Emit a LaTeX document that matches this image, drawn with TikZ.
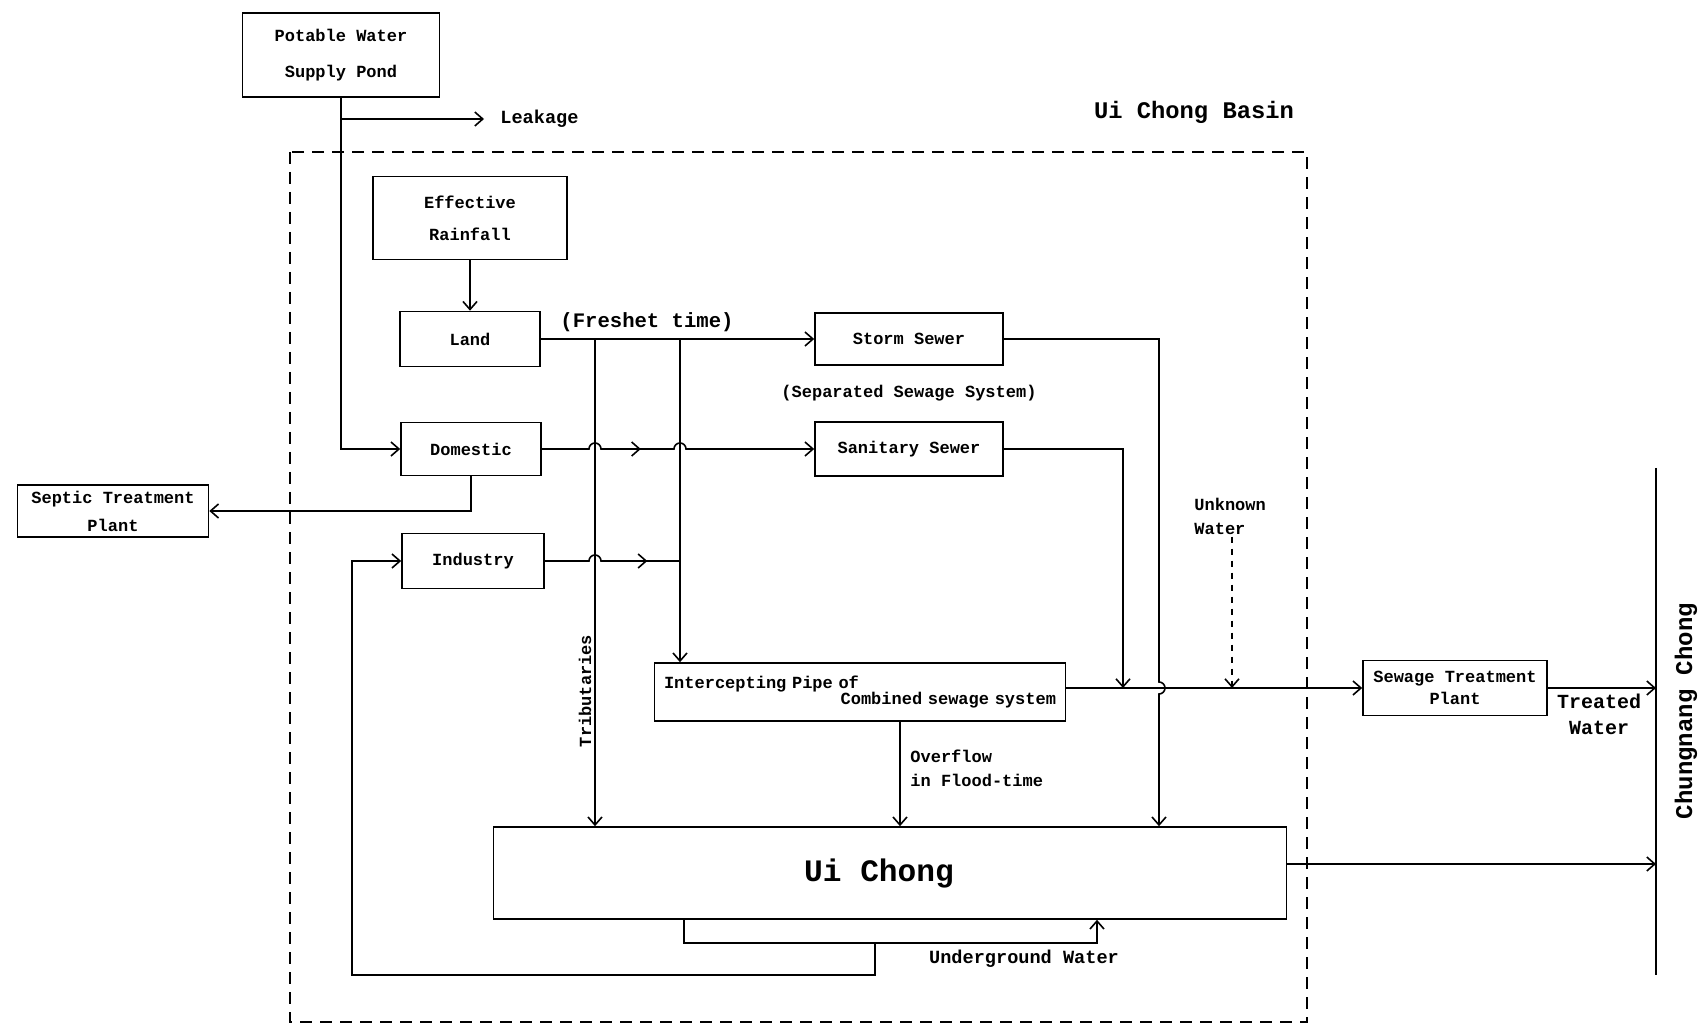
\documentclass[tikz,border=0pt]{standalone}
\usepackage{fontspec}
\newfontfamily\diafont{Liberation Mono}
\usepackage{tikz}
\usetikzlibrary{arrows.meta, decorations.markings, calc}
\tikzstyle{box} = [rectangle, draw=black, line width=0.8pt, align=center, inner sep=2pt,
                   font=\diafont\bfseries\fontsize{8.5}{10}\selectfont]
\tikzstyle{lbl} = [align=left, inner sep=1pt, font=\diafont\bfseries\fontsize{8.5}{10}\selectfont]
\tikzstyle{flow} = [line width=0.8pt]
\tikzstyle{arrow} = [line width=0.8pt, -{Straight Barb[length=4pt,width=7pt]}]
\tikzstyle{basin} = [line width=0.8pt, dash pattern=on 6pt off 4pt]
\tikzset{midarrow/.style={postaction={decorate},
  decoration={markings, mark=at position #1 with {\arrow{Straight Barb[length=4pt,width=7pt]}}}}}

\begin{document}
\begin{tikzpicture}[x=0.5pt, y=-0.5pt]
  \useasboundingbox (0,0) rectangle (1699,1032);

  % basin
  \draw[basin] (290,152) rectangle (1307,1022);
  \node (basinname) [lbl, font=\diafont\bfseries\fontsize{11.9}{14}\selectfont] at (1194,112) {Ui Chong Basin};

  \node (pond) [box, minimum width=98.5pt, minimum height=42pt] at (341,55) {Potable Water\\[8pt]Supply Pond};
  \node (leak) [lbl, anchor=west, inner xsep=8pt, font=\diafont\bfseries\fontsize{9.3}{11}\selectfont] at (484,119) {Leakage};
  \node (rain) [box, minimum width=97pt, minimum height=41.5pt] at (470,218) {Effective\\[6pt]Rainfall};
  \node (land) [box, minimum width=70pt, minimum height=27.5pt] at (470,339) {Land};
  \node (dom) [box, minimum width=70pt, minimum height=26.5pt] at (471,449) {Domestic};
  \node (ind) [box, minimum width=71pt, minimum height=27.5pt] at (473,561) {Industry};
  \node (septic) [box, minimum width=95.5pt, minimum height=26pt] at (113,511) {Septic Treatment\\[4pt]Plant};
  \node (storm) [box, minimum width=94pt, minimum height=26pt] at (909,339) {Storm Sewer};
  \node (sani) [box, minimum width=94pt, minimum height=27pt] at (909,449) {Sanitary Sewer};
  \node (pipe) [box, minimum width=205.5pt, minimum height=29pt, text width=196pt, align=left] at (860,692)
    {Intercepting Pipe of\\[-2pt]\hspace*{\fill}Combined sewage system};
  \node (stp) [box, minimum width=92pt, minimum height=27.5pt] at (1455,688) {Sewage Treatment\\[1pt]Plant};
  \node (uichong) [box, minimum width=396.5pt, minimum height=46pt, font=\diafont\bfseries\fontsize{15.6}{18}\selectfont] at (890,873) {\hspace*{-11pt}Ui Chong};

  \node (freshet) [lbl, font=\diafont\bfseries\fontsize{10.3}{12}\selectfont] at (647,322) {(Freshet time)};
  \node (separated) [lbl] at (909,393) {(Separated Sewage System)};
  \node (trib) [lbl, rotate=90] at (585,691) {Tributaries};
  \node (overflow) [lbl, anchor=west] at (908,768) {Overflow\\[2pt]in Flood-time};
  \node (unk) [lbl, anchor=west] at (1192,516) {Unknown\\[2pt]Water};
  \node (treated) [lbl, align=center, font=\diafont\bfseries\fontsize{10}{12}\selectfont] at (1599,714) {Treated\\[1pt]Water};
  \node (ground) [lbl, font=\diafont\bfseries\fontsize{9.3}{11}\selectfont] at (1024,959) {Underground Water};
  \node (river) [lbl, rotate=90, font=\diafont\bfseries\fontsize{12}{14}\selectfont] at (1686,711) {Chungnang Chong};

  \coordinate (fork1) at (595,339);
  \coordinate (fork2) at (680,339);
  \coordinate (sdrop) at (1159,688);
  \coordinate (sdrop2) at (1123,688);
  \coordinate (udrop) at (1232,688);
  \coordinate (ovf) at (900,700);
  \coordinate (rtop) at (1656,468);
  \coordinate (rbot) at (1656,975);
  \coordinate (uiout) at (1656,864);
  \coordinate (gw1) at (684,943);
  \coordinate (gw2) at (1097,943);
  \coordinate (fb1) at (875,943);
  \coordinate (fb2) at (352,975);

  % supply
  \draw[arrow] (pond.south) |- (dom.west);
  \draw[arrow] (pond.south |- leak.west) -- (leak.west);
  \draw[arrow] (rain.south) -- (land.north);
  \draw[arrow] (dom.south) |- (septic.east);

  % land runoff
  \draw[arrow] (land.east) -- (storm.west);
  \draw[arrow] (fork1) -- (uichong.north -| fork1);
  \draw[arrow] (fork2) -- (pipe.north -| fork2);

  % domestic and industry
  \draw[arrow, midarrow=0.37] (dom.east) -- ($(dom.east -| fork1)+(-6,0)$) arc[start angle=180, end angle=0, radius=3pt]
    -- ($(dom.east -| fork2)+(-6,0)$) arc[start angle=180, end angle=0, radius=3pt] -- (sani.west);
  \draw[flow, midarrow=0.77] (ind.east) -- ($(ind.east -| fork1)+(-6,0)$) arc[start angle=180, end angle=0, radius=3pt]
    -- (ind.east -| fork2);

  % sewers
  \draw[arrow] (storm.east) -- (storm.east -| sdrop) -- ($(sdrop)+(0,-6)$) arc[start angle=90, end angle=-90, radius=3pt]
    -- (uichong.north -| sdrop);
  \draw[arrow] (sani.east) -| (sdrop2);
  \draw[arrow, dashed] (udrop |- unk.south) -- (udrop);
  \draw[arrow] (pipe.east |- stp.west) -- (stp.west);
  \draw[arrow] (pipe.south -| ovf) -- (uichong.north -| ovf);

  % outflow
  \draw[line width=1pt] (rtop) -- (rbot);
  \draw[arrow] (stp.east) -- (stp.east -| rtop);
  \draw[arrow] (uichong.east |- uiout) -- (uiout);

  % underground water
  \draw[arrow] (uichong.south -| gw1) -- (gw1) -- (gw2) -- (uichong.south -| gw2);
  \draw[arrow] (fb1) |- (fb2) |- (ind.west);
\end{tikzpicture}
\end{document}
